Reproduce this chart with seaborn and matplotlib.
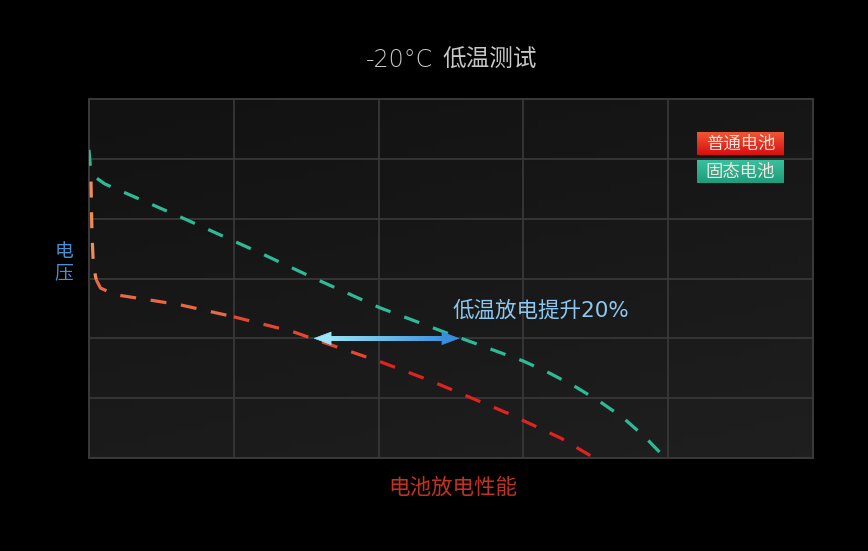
import numpy as np
import pandas as pd
import matplotlib.pyplot as plt
import seaborn as sns

# Data (x: discharge capacity, y: voltage, grid units)
solid_x = [0.0, 0.01, 0.04, 0.11, 0.63, 1.18, 1.55, 2.01, 2.47, 3.0, 3.18, 3.36, 3.53, 3.69, 3.84, 3.98]
solid_y = [5.15, 4.85, 4.70, 4.58, 4.03, 3.43, 3.01, 2.51, 2.09, 1.62, 1.42, 1.19, 0.94, 0.67, 0.35, 0.0]

normal_x = [0.014, 0.02, 0.03, 0.05, 0.08, 0.18, 0.42, 0.63, 1.0, 1.41, 1.55, 2.01, 2.35, 2.89, 3.26, 3.49]
normal_y = [4.62, 3.81, 3.23, 2.98, 2.84, 2.73, 2.64, 2.56, 2.36, 2.11, 1.99, 1.61, 1.30, 0.75, 0.33, 0.0]
# colour band of the normal battery line (orange -> red along the curve)
normal_band = [0, 0, 0, 1, 1, 1, 1, 1, 2, 2, 2, 3, 3, 3, 3, 3]

arrow_x = [1.55, 2.56]
arrow_y = 2.0

title_temp = "-20°C"
title_text = "低温测试"
xlabel = "电池放电性能"
ylabel = "电压"
note = "低温放电提升20%"
legend_labels = ["普通电池", "固态电池"]

sns.set_style("dark")
plt.rcParams['font.family'] = ['Noto Sans CJK SC', 'DejaVu Sans']
latin_first = ['DejaVu Sans', 'Noto Sans CJK SC']

fig = plt.figure(figsize=(8.68, 5.51), dpi=100, facecolor='black')
ax = fig.add_axes([0.1025, 0.1688, 0.8341, 0.6515])
ax.set_facecolor('#151515')

# subtle background gradient
gx, gy = np.meshgrid(np.linspace(0, 1, 50), np.linspace(0, 1, 50))
shade = 0.3 * gx + 0.7 * gy
ax.imshow(shade, extent=[0, 5, 0, 6], origin='upper',
          cmap=sns.blend_palette(['#121212', '#1f1f1f'], as_cmap=True), aspect='auto', zorder=0)

# normal battery: dashed line split into colour bands
rows = []
for b in range(4):
    idx = [i for i, v in enumerate(normal_band) if v == b]
    if b < 3:
        idx.append(idx[-1] + 1)
    for i in idx:
        rows.append({'x': normal_x[i], 'y': normal_y[i], 'band': b})
normal_df = pd.DataFrame(rows)
band_colors = ['#f08c5a', '#ea6843', '#e6472f', '#e0231f']
sns.lineplot(data=normal_df, x='x', y='y', hue='band', palette=band_colors, sort=False,
             estimator=None, ax=ax, linewidth=2.3, legend=False, zorder=3)

solid_df = pd.DataFrame({'x': solid_x, 'y': solid_y})
sns.lineplot(data=solid_df, x='x', y='y', sort=False, estimator=None, ax=ax,
             color='#2dbb96', linewidth=2.3, zorder=3)
for ln in ax.get_lines():
    ln.set_dashes((5, 4.6))

# double arrow with gradient shaft
ax.imshow(np.linspace(0, 1, 100).reshape(1, -1),
          extent=[arrow_x[0] + 0.08, arrow_x[1] - 0.08, arrow_y - 0.04, arrow_y + 0.04],
          cmap=sns.blend_palette(['#9ae6f8', '#3a8fdc'], as_cmap=True), aspect='auto', zorder=5)
head = dict(arrowstyle='-|>,head_length=1.2,head_width=0.45', lw=0.5, shrinkA=0, shrinkB=0)
ax.annotate('', xy=(arrow_x[0], arrow_y), xytext=(arrow_x[0] + 0.14, arrow_y),
            arrowprops=dict(head, color='#9ae6f8'), zorder=6)
ax.annotate('', xy=(arrow_x[1], arrow_y), xytext=(arrow_x[1] - 0.14, arrow_y),
            arrowprops=dict(head, color='#3a8fdc'), zorder=6)
ax.text(2.51, 2.47, note, color='#8cc8f0', fontsize=15.5, va='center', ha='left', zorder=6,
        family=latin_first)

# legend boxes
box_cmaps = [sns.blend_palette(['#d81010', '#f05533'], as_cmap=True),
             sns.blend_palette(['#1f9c7c', '#38c09c'], as_cmap=True)]
box_bottoms = [0.844, 0.766]
for lab, cm, yb in zip(legend_labels, box_cmaps, box_bottoms):
    ax.imshow(np.linspace(0, 1, 20).reshape(-1, 1), extent=[0.840, 0.960, yb, yb + 0.064], origin='lower',
              cmap=cm, aspect='auto', transform=ax.transAxes, zorder=7)
    ax.text(0.900, yb + 0.032, lab, transform=ax.transAxes, color='#f6e4e0', fontsize=12.5,
            ha='center', va='center', zorder=8)

ax.set_xlim(0, 5)
ax.set_ylim(0, 6)
ax.set_xticks(range(6))
ax.set_yticks(range(7))
ax.set_xticklabels([])
ax.set_yticklabels([])
ax.tick_params(length=0)
ax.grid(True, color='#3a3a3a', linewidth=1.2)
for ln in ax.get_xgridlines() + ax.get_ygridlines():
    ln.set_zorder(1)
for s in ax.spines.values():
    s.set_color('#3a3a3a')
    s.set_linewidth(1.4)
    s.set_visible(True)
ax.set_xlabel('')
ax.set_ylabel('')

fig.text(0.4988, 0.891, title_temp, color='#c8c8c8', fontsize=17, ha='right', va='center',
         fontweight='light', family='DejaVu Sans')
fig.text(0.5092, 0.891, title_text, color='#c8c8c8', fontsize=17, ha='left', va='center',
         fontweight='normal', family='Noto Sans CJK SC')
fig.text(0.522, 0.114, xlabel, color='#c4321f', fontsize=15.5, ha='center', va='center')
fig.text(0.0737, 0.5245, "\n".join(ylabel), color='#4a90d0', fontsize=13.5, ha='center', va='center',
         linespacing=1.0)

fig.savefig('out.png', dpi=100, facecolor='black')
